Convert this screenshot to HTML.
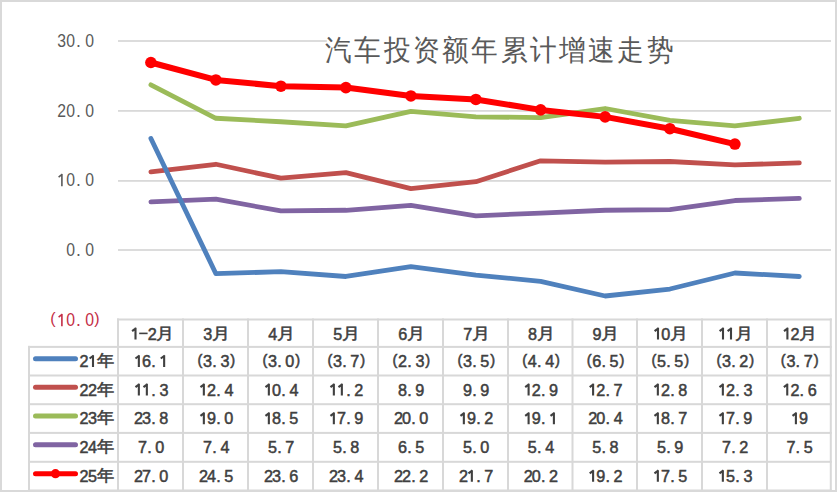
<!DOCTYPE html><html><head><meta charset="utf-8"><style>html,body{margin:0;padding:0;background:#fff;overflow:hidden}svg{display:block}text{font-family:"Liberation Sans",sans-serif}</style></head><body>
<svg width="837" height="492" viewBox="0 0 837 492">
<rect x="0" y="0" width="837" height="492" fill="#fff"/>
<rect x="118.0" y="40.10" width="713.0" height="1.8" fill="#d9d9d9"/>
<rect x="118.0" y="110.00" width="713.0" height="1.8" fill="#d9d9d9"/>
<rect x="118.0" y="180.00" width="713.0" height="1.8" fill="#d9d9d9"/>
<rect x="118.0" y="249.10" width="713.0" height="1.8" fill="#d9d9d9"/>
<rect x="326.8" y="32" width="343.1" height="34" fill="#fff"/>
<text transform="translate(325.1 60) scale(0.92 1)" x="0" y="0" font-size="28.9" letter-spacing="2.64" fill="#595959">汽车投资额年累计增速走势</text>
<text transform="translate(89.75 47.20) scale(0.900 1)" x="-4.87" y="0" font-size="17.50" fill="#595959">0</text>
<text transform="translate(70.65 47.20) scale(0.900 1)" x="-4.87" y="0" font-size="17.50" fill="#595959">0</text>
<text transform="translate(61.65 47.20) scale(0.900 1)" x="-4.82" y="0" font-size="17.50" fill="#595959">3</text>
<text x="75.92" y="47.20" font-size="17.50" fill="#595959">.</text>
<text transform="translate(89.75 117.40) scale(0.900 1)" x="-4.87" y="0" font-size="17.50" fill="#595959">0</text>
<text transform="translate(70.65 117.40) scale(0.900 1)" x="-4.87" y="0" font-size="17.50" fill="#595959">0</text>
<text transform="translate(61.65 117.40) scale(0.900 1)" x="-4.87" y="0" font-size="17.50" fill="#595959">2</text>
<text x="75.92" y="117.40" font-size="17.50" fill="#595959">.</text>
<text transform="translate(89.75 186.30) scale(0.900 1)" x="-4.87" y="0" font-size="17.50" fill="#595959">0</text>
<text transform="translate(70.65 186.30) scale(0.900 1)" x="-4.87" y="0" font-size="17.50" fill="#595959">0</text>
<path d="M61.90 173.90V186.30M62.38 174.20L58.60 177.10" stroke="#595959" stroke-width="1.60" fill="none" stroke-linecap="butt"/>
<text x="75.92" y="186.30" font-size="17.50" fill="#595959">.</text>
<text transform="translate(89.75 256.10) scale(0.900 1)" x="-4.87" y="0" font-size="17.50" fill="#595959">0</text>
<text transform="translate(70.65 256.10) scale(0.900 1)" x="-4.87" y="0" font-size="17.50" fill="#595959">0</text>
<text x="75.92" y="256.10" font-size="17.50" fill="#595959">.</text>
<text transform="translate(89.75 326.30) scale(0.900 1)" x="-4.87" y="0" font-size="17.50" fill="#c42d45">0</text>
<text transform="translate(70.65 326.30) scale(0.900 1)" x="-4.87" y="0" font-size="17.50" fill="#c42d45">0</text>
<path d="M61.90 313.90V326.30M62.38 314.20L58.60 317.10" stroke="#c42d45" stroke-width="1.60" fill="none" stroke-linecap="butt"/>
<text x="75.92" y="326.30" font-size="17.50" fill="#c42d45">.</text>
<text x="50.29" y="324.20" font-size="16.00" fill="#c42d45">(</text>
<text x="94.29" y="324.20" font-size="16.00" fill="#c42d45">)</text>
<g fill="#d8d8d8">
<rect x="117.00" y="318.50" width="714.80" height="2"/>
<rect x="28.00" y="345.90" width="803.80" height="2"/>
<rect x="28.00" y="374.50" width="803.80" height="2"/>
<rect x="28.00" y="403.20" width="803.80" height="2"/>
<rect x="28.00" y="431.90" width="803.80" height="2"/>
<rect x="28.00" y="460.80" width="803.80" height="2"/>
<rect x="28.00" y="489.50" width="803.80" height="2"/>
<rect x="28.00" y="345.90" width="2" height="145.60"/>
<rect x="117.00" y="318.50" width="2" height="173.00"/>
<rect x="182.00" y="318.50" width="2" height="173.00"/>
<rect x="247.00" y="318.50" width="2" height="173.00"/>
<rect x="312.00" y="318.50" width="2" height="173.00"/>
<rect x="377.00" y="318.50" width="2" height="173.00"/>
<rect x="442.00" y="318.50" width="2" height="173.00"/>
<rect x="507.00" y="318.50" width="2" height="173.00"/>
<rect x="571.50" y="318.50" width="2" height="173.00"/>
<rect x="636.00" y="318.50" width="2" height="173.00"/>
<rect x="701.00" y="318.50" width="2" height="173.00"/>
<rect x="766.00" y="318.50" width="2" height="173.00"/>
<rect x="829.80" y="318.50" width="2" height="173.00"/>
</g>
<path d="M135.50 327.80V339.50M136.13 328.10L132.10 331.10" stroke="#404040" stroke-width="2.10" fill="none" stroke-linecap="butt"/><rect x="139.20" y="332.60" width="8.4" height="1.6" fill="#404040"/><text x="147.70" y="339.50" font-size="16.20" fill="#404040" stroke="#404040" stroke-width="0.50">2</text><text transform="translate(163.80 338.90) scale(1.130 1)" x="-6.56" y="0" font-size="16.00" fill="#404040" stroke="#404040" stroke-width="0.50">月</text>
<text x="203.24" y="339.50" font-size="16.20" fill="#404040" stroke="#404040" stroke-width="0.50">3</text><text transform="translate(219.30 338.90) scale(1.130 1)" x="-6.56" y="0" font-size="16.00" fill="#404040" stroke="#404040" stroke-width="0.50">月</text>
<text x="268.25" y="339.50" font-size="16.20" fill="#404040" stroke="#404040" stroke-width="0.50">4</text><text transform="translate(284.30 338.90) scale(1.130 1)" x="-6.56" y="0" font-size="16.00" fill="#404040" stroke="#404040" stroke-width="0.50">月</text>
<text x="333.21" y="339.50" font-size="16.20" fill="#404040" stroke="#404040" stroke-width="0.50">5</text><text transform="translate(349.30 338.90) scale(1.130 1)" x="-6.56" y="0" font-size="16.00" fill="#404040" stroke="#404040" stroke-width="0.50">月</text>
<text x="398.14" y="339.50" font-size="16.20" fill="#404040" stroke="#404040" stroke-width="0.50">6</text><text transform="translate(414.30 338.90) scale(1.130 1)" x="-6.56" y="0" font-size="16.00" fill="#404040" stroke="#404040" stroke-width="0.50">月</text>
<text x="463.19" y="339.50" font-size="16.20" fill="#404040" stroke="#404040" stroke-width="0.50">7</text><text transform="translate(479.30 338.90) scale(1.130 1)" x="-6.56" y="0" font-size="16.00" fill="#404040" stroke="#404040" stroke-width="0.50">月</text>
<text x="527.95" y="339.50" font-size="16.20" fill="#404040" stroke="#404040" stroke-width="0.50">8</text><text transform="translate(544.05 338.90) scale(1.130 1)" x="-6.56" y="0" font-size="16.00" fill="#404040" stroke="#404040" stroke-width="0.50">月</text>
<text x="592.45" y="339.50" font-size="16.20" fill="#404040" stroke="#404040" stroke-width="0.50">9</text><text transform="translate(608.55 338.90) scale(1.130 1)" x="-6.56" y="0" font-size="16.00" fill="#404040" stroke="#404040" stroke-width="0.50">月</text>
<path d="M658.00 327.80V339.50M658.63 328.10L654.60 331.10" stroke="#404040" stroke-width="2.10" fill="none" stroke-linecap="butt"/><text x="661.20" y="339.50" font-size="16.20" fill="#404040" stroke="#404040" stroke-width="0.50">0</text><text transform="translate(677.30 338.90) scale(1.130 1)" x="-6.56" y="0" font-size="16.00" fill="#404040" stroke="#404040" stroke-width="0.50">月</text>
<path d="M723.00 327.80V339.50M723.63 328.10L719.60 331.10" stroke="#404040" stroke-width="2.10" fill="none" stroke-linecap="butt"/><path d="M731.00 327.80V339.50M731.63 328.10L727.60 331.10" stroke="#404040" stroke-width="2.10" fill="none" stroke-linecap="butt"/><text transform="translate(742.30 338.90) scale(1.130 1)" x="-6.56" y="0" font-size="16.00" fill="#404040" stroke="#404040" stroke-width="0.50">月</text>
<path d="M787.40 327.80V339.50M788.03 328.10L784.00 331.10" stroke="#404040" stroke-width="2.10" fill="none" stroke-linecap="butt"/><text x="790.60" y="339.50" font-size="16.20" fill="#404040" stroke="#404040" stroke-width="0.50">2</text><text transform="translate(806.70 338.90) scale(1.130 1)" x="-6.56" y="0" font-size="16.00" fill="#404040" stroke="#404040" stroke-width="0.50">月</text>
<path d="M138.85 355.20V366.90M139.48 355.50L135.45 358.50" stroke="#404040" stroke-width="2.10" fill="none" stroke-linecap="butt"/><text x="141.99" y="366.90" font-size="16.20" fill="#404040" stroke="#404040" stroke-width="0.50">6</text><text x="151.15" y="366.90" font-size="16.20" fill="#404040" stroke="#404040" stroke-width="0.50">.</text><path d="M164.15 355.20V366.90M164.78 355.50L160.75 358.50" stroke="#404040" stroke-width="2.10" fill="none" stroke-linecap="butt"/>
<text x="197.39" y="364.60" font-size="14.70" fill="#404040" stroke="#404040" stroke-width="0.50">(</text><text x="203.09" y="366.90" font-size="16.20" fill="#404040" stroke="#404040" stroke-width="0.50">3</text><text x="212.15" y="366.90" font-size="16.20" fill="#404040" stroke="#404040" stroke-width="0.50">.</text><text x="220.39" y="366.90" font-size="16.20" fill="#404040" stroke="#404040" stroke-width="0.50">3</text><text x="230.32" y="364.60" font-size="14.70" fill="#404040" stroke="#404040" stroke-width="0.50">)</text>
<text x="262.39" y="364.60" font-size="14.70" fill="#404040" stroke="#404040" stroke-width="0.50">(</text><text x="268.09" y="366.90" font-size="16.20" fill="#404040" stroke="#404040" stroke-width="0.50">3</text><text x="277.15" y="366.90" font-size="16.20" fill="#404040" stroke="#404040" stroke-width="0.50">.</text><text x="285.35" y="366.90" font-size="16.20" fill="#404040" stroke="#404040" stroke-width="0.50">0</text><text x="295.32" y="364.60" font-size="14.70" fill="#404040" stroke="#404040" stroke-width="0.50">)</text>
<text x="327.39" y="364.60" font-size="14.70" fill="#404040" stroke="#404040" stroke-width="0.50">(</text><text x="333.09" y="366.90" font-size="16.20" fill="#404040" stroke="#404040" stroke-width="0.50">3</text><text x="342.15" y="366.90" font-size="16.20" fill="#404040" stroke="#404040" stroke-width="0.50">.</text><text x="350.34" y="366.90" font-size="16.20" fill="#404040" stroke="#404040" stroke-width="0.50">7</text><text x="360.32" y="364.60" font-size="14.70" fill="#404040" stroke="#404040" stroke-width="0.50">)</text>
<text x="392.39" y="364.60" font-size="14.70" fill="#404040" stroke="#404040" stroke-width="0.50">(</text><text x="398.05" y="366.90" font-size="16.20" fill="#404040" stroke="#404040" stroke-width="0.50">2</text><text x="407.15" y="366.90" font-size="16.20" fill="#404040" stroke="#404040" stroke-width="0.50">.</text><text x="415.39" y="366.90" font-size="16.20" fill="#404040" stroke="#404040" stroke-width="0.50">3</text><text x="425.32" y="364.60" font-size="14.70" fill="#404040" stroke="#404040" stroke-width="0.50">)</text>
<text x="457.39" y="364.60" font-size="14.70" fill="#404040" stroke="#404040" stroke-width="0.50">(</text><text x="463.09" y="366.90" font-size="16.20" fill="#404040" stroke="#404040" stroke-width="0.50">3</text><text x="472.15" y="366.90" font-size="16.20" fill="#404040" stroke="#404040" stroke-width="0.50">.</text><text x="480.36" y="366.90" font-size="16.20" fill="#404040" stroke="#404040" stroke-width="0.50">5</text><text x="490.32" y="364.60" font-size="14.70" fill="#404040" stroke="#404040" stroke-width="0.50">)</text>
<text x="522.14" y="364.60" font-size="14.70" fill="#404040" stroke="#404040" stroke-width="0.50">(</text><text x="527.85" y="366.90" font-size="16.20" fill="#404040" stroke="#404040" stroke-width="0.50">4</text><text x="536.90" y="366.90" font-size="16.20" fill="#404040" stroke="#404040" stroke-width="0.50">.</text><text x="545.15" y="366.90" font-size="16.20" fill="#404040" stroke="#404040" stroke-width="0.50">4</text><text x="555.07" y="364.60" font-size="14.70" fill="#404040" stroke="#404040" stroke-width="0.50">)</text>
<text x="586.64" y="364.60" font-size="14.70" fill="#404040" stroke="#404040" stroke-width="0.50">(</text><text x="592.24" y="366.90" font-size="16.20" fill="#404040" stroke="#404040" stroke-width="0.50">6</text><text x="601.40" y="366.90" font-size="16.20" fill="#404040" stroke="#404040" stroke-width="0.50">.</text><text x="609.61" y="366.90" font-size="16.20" fill="#404040" stroke="#404040" stroke-width="0.50">5</text><text x="619.57" y="364.60" font-size="14.70" fill="#404040" stroke="#404040" stroke-width="0.50">)</text>
<text x="651.39" y="364.60" font-size="14.70" fill="#404040" stroke="#404040" stroke-width="0.50">(</text><text x="657.06" y="366.90" font-size="16.20" fill="#404040" stroke="#404040" stroke-width="0.50">5</text><text x="666.15" y="366.90" font-size="16.20" fill="#404040" stroke="#404040" stroke-width="0.50">.</text><text x="674.36" y="366.90" font-size="16.20" fill="#404040" stroke="#404040" stroke-width="0.50">5</text><text x="684.32" y="364.60" font-size="14.70" fill="#404040" stroke="#404040" stroke-width="0.50">)</text>
<text x="716.39" y="364.60" font-size="14.70" fill="#404040" stroke="#404040" stroke-width="0.50">(</text><text x="722.09" y="366.90" font-size="16.20" fill="#404040" stroke="#404040" stroke-width="0.50">3</text><text x="731.15" y="366.90" font-size="16.20" fill="#404040" stroke="#404040" stroke-width="0.50">.</text><text x="739.35" y="366.90" font-size="16.20" fill="#404040" stroke="#404040" stroke-width="0.50">2</text><text x="749.32" y="364.60" font-size="14.70" fill="#404040" stroke="#404040" stroke-width="0.50">)</text>
<text x="780.79" y="364.60" font-size="14.70" fill="#404040" stroke="#404040" stroke-width="0.50">(</text><text x="786.49" y="366.90" font-size="16.20" fill="#404040" stroke="#404040" stroke-width="0.50">3</text><text x="795.55" y="366.90" font-size="16.20" fill="#404040" stroke="#404040" stroke-width="0.50">.</text><text x="803.74" y="366.90" font-size="16.20" fill="#404040" stroke="#404040" stroke-width="0.50">7</text><text x="813.72" y="364.60" font-size="14.70" fill="#404040" stroke="#404040" stroke-width="0.50">)</text>
<line x1="35.5" y1="358.70" x2="75.5" y2="358.70" stroke="#4f81bd" stroke-width="5" stroke-linecap="round"/>
<text x="79.40" y="366.90" font-size="16.20" fill="#404040" stroke="#404040" stroke-width="0.50">2</text>
<path d="M93.00 355.20V366.90M93.63 355.50L89.60 358.50" stroke="#404040" stroke-width="2.10" fill="none" stroke-linecap="butt"/>
<text transform="translate(105.25 366.00) scale(1.080 1)" x="-7.54" y="0" font-size="15.70" fill="#404040" stroke="#404040" stroke-width="0.50">年</text>
<path d="M138.85 383.85V395.55M139.48 384.15L135.45 387.15" stroke="#404040" stroke-width="2.10" fill="none" stroke-linecap="butt"/><path d="M146.85 383.85V395.55M147.48 384.15L143.45 387.15" stroke="#404040" stroke-width="2.10" fill="none" stroke-linecap="butt"/><text x="151.15" y="395.55" font-size="16.20" fill="#404040" stroke="#404040" stroke-width="0.50">.</text><text x="159.39" y="395.55" font-size="16.20" fill="#404040" stroke="#404040" stroke-width="0.50">3</text>
<path d="M203.85 383.85V395.55M204.48 384.15L200.45 387.15" stroke="#404040" stroke-width="2.10" fill="none" stroke-linecap="butt"/><text x="207.05" y="395.55" font-size="16.20" fill="#404040" stroke="#404040" stroke-width="0.50">2</text><text x="216.15" y="395.55" font-size="16.20" fill="#404040" stroke="#404040" stroke-width="0.50">.</text><text x="224.40" y="395.55" font-size="16.20" fill="#404040" stroke="#404040" stroke-width="0.50">4</text>
<path d="M268.85 383.85V395.55M269.48 384.15L265.45 387.15" stroke="#404040" stroke-width="2.10" fill="none" stroke-linecap="butt"/><text x="272.05" y="395.55" font-size="16.20" fill="#404040" stroke="#404040" stroke-width="0.50">0</text><text x="281.15" y="395.55" font-size="16.20" fill="#404040" stroke="#404040" stroke-width="0.50">.</text><text x="289.40" y="395.55" font-size="16.20" fill="#404040" stroke="#404040" stroke-width="0.50">4</text>
<path d="M333.85 383.85V395.55M334.48 384.15L330.45 387.15" stroke="#404040" stroke-width="2.10" fill="none" stroke-linecap="butt"/><path d="M341.85 383.85V395.55M342.48 384.15L338.45 387.15" stroke="#404040" stroke-width="2.10" fill="none" stroke-linecap="butt"/><text x="346.15" y="395.55" font-size="16.20" fill="#404040" stroke="#404040" stroke-width="0.50">.</text><text x="354.35" y="395.55" font-size="16.20" fill="#404040" stroke="#404040" stroke-width="0.50">2</text>
<text x="398.05" y="395.55" font-size="16.20" fill="#404040" stroke="#404040" stroke-width="0.50">8</text><text x="407.15" y="395.55" font-size="16.20" fill="#404040" stroke="#404040" stroke-width="0.50">.</text><text x="415.35" y="395.55" font-size="16.20" fill="#404040" stroke="#404040" stroke-width="0.50">9</text>
<text x="463.05" y="395.55" font-size="16.20" fill="#404040" stroke="#404040" stroke-width="0.50">9</text><text x="472.15" y="395.55" font-size="16.20" fill="#404040" stroke="#404040" stroke-width="0.50">.</text><text x="480.35" y="395.55" font-size="16.20" fill="#404040" stroke="#404040" stroke-width="0.50">9</text>
<path d="M528.60 383.85V395.55M529.23 384.15L525.20 387.15" stroke="#404040" stroke-width="2.10" fill="none" stroke-linecap="butt"/><text x="531.80" y="395.55" font-size="16.20" fill="#404040" stroke="#404040" stroke-width="0.50">2</text><text x="540.90" y="395.55" font-size="16.20" fill="#404040" stroke="#404040" stroke-width="0.50">.</text><text x="549.10" y="395.55" font-size="16.20" fill="#404040" stroke="#404040" stroke-width="0.50">9</text>
<path d="M593.10 383.85V395.55M593.73 384.15L589.70 387.15" stroke="#404040" stroke-width="2.10" fill="none" stroke-linecap="butt"/><text x="596.30" y="395.55" font-size="16.20" fill="#404040" stroke="#404040" stroke-width="0.50">2</text><text x="605.40" y="395.55" font-size="16.20" fill="#404040" stroke="#404040" stroke-width="0.50">.</text><text x="613.59" y="395.55" font-size="16.20" fill="#404040" stroke="#404040" stroke-width="0.50">7</text>
<path d="M657.85 383.85V395.55M658.48 384.15L654.45 387.15" stroke="#404040" stroke-width="2.10" fill="none" stroke-linecap="butt"/><text x="661.05" y="395.55" font-size="16.20" fill="#404040" stroke="#404040" stroke-width="0.50">2</text><text x="670.15" y="395.55" font-size="16.20" fill="#404040" stroke="#404040" stroke-width="0.50">.</text><text x="678.35" y="395.55" font-size="16.20" fill="#404040" stroke="#404040" stroke-width="0.50">8</text>
<path d="M722.85 383.85V395.55M723.48 384.15L719.45 387.15" stroke="#404040" stroke-width="2.10" fill="none" stroke-linecap="butt"/><text x="726.05" y="395.55" font-size="16.20" fill="#404040" stroke="#404040" stroke-width="0.50">2</text><text x="735.15" y="395.55" font-size="16.20" fill="#404040" stroke="#404040" stroke-width="0.50">.</text><text x="743.39" y="395.55" font-size="16.20" fill="#404040" stroke="#404040" stroke-width="0.50">3</text>
<path d="M787.25 383.85V395.55M787.88 384.15L783.85 387.15" stroke="#404040" stroke-width="2.10" fill="none" stroke-linecap="butt"/><text x="790.45" y="395.55" font-size="16.20" fill="#404040" stroke="#404040" stroke-width="0.50">2</text><text x="799.55" y="395.55" font-size="16.20" fill="#404040" stroke="#404040" stroke-width="0.50">.</text><text x="807.69" y="395.55" font-size="16.20" fill="#404040" stroke="#404040" stroke-width="0.50">6</text>
<line x1="35.5" y1="387.35" x2="75.5" y2="387.35" stroke="#c0504d" stroke-width="5" stroke-linecap="round"/>
<text x="79.40" y="395.55" font-size="16.20" fill="#404040" stroke="#404040" stroke-width="0.50">2</text>
<text x="87.90" y="395.55" font-size="16.20" fill="#404040" stroke="#404040" stroke-width="0.50">2</text>
<text transform="translate(105.25 394.65) scale(1.080 1)" x="-7.54" y="0" font-size="15.70" fill="#404040" stroke="#404040" stroke-width="0.50">年</text>
<text x="134.05" y="424.25" font-size="16.20" fill="#404040" stroke="#404040" stroke-width="0.50">2</text><text x="142.09" y="424.25" font-size="16.20" fill="#404040" stroke="#404040" stroke-width="0.50">3</text><text x="151.15" y="424.25" font-size="16.20" fill="#404040" stroke="#404040" stroke-width="0.50">.</text><text x="159.35" y="424.25" font-size="16.20" fill="#404040" stroke="#404040" stroke-width="0.50">8</text>
<path d="M203.85 412.55V424.25M204.48 412.85L200.45 415.85" stroke="#404040" stroke-width="2.10" fill="none" stroke-linecap="butt"/><text x="207.05" y="424.25" font-size="16.20" fill="#404040" stroke="#404040" stroke-width="0.50">9</text><text x="216.15" y="424.25" font-size="16.20" fill="#404040" stroke="#404040" stroke-width="0.50">.</text><text x="224.35" y="424.25" font-size="16.20" fill="#404040" stroke="#404040" stroke-width="0.50">0</text>
<path d="M268.85 412.55V424.25M269.48 412.85L265.45 415.85" stroke="#404040" stroke-width="2.10" fill="none" stroke-linecap="butt"/><text x="272.05" y="424.25" font-size="16.20" fill="#404040" stroke="#404040" stroke-width="0.50">8</text><text x="281.15" y="424.25" font-size="16.20" fill="#404040" stroke="#404040" stroke-width="0.50">.</text><text x="289.36" y="424.25" font-size="16.20" fill="#404040" stroke="#404040" stroke-width="0.50">5</text>
<path d="M333.85 412.55V424.25M334.48 412.85L330.45 415.85" stroke="#404040" stroke-width="2.10" fill="none" stroke-linecap="butt"/><text x="337.04" y="424.25" font-size="16.20" fill="#404040" stroke="#404040" stroke-width="0.50">7</text><text x="346.15" y="424.25" font-size="16.20" fill="#404040" stroke="#404040" stroke-width="0.50">.</text><text x="354.35" y="424.25" font-size="16.20" fill="#404040" stroke="#404040" stroke-width="0.50">9</text>
<text x="394.05" y="424.25" font-size="16.20" fill="#404040" stroke="#404040" stroke-width="0.50">2</text><text x="402.05" y="424.25" font-size="16.20" fill="#404040" stroke="#404040" stroke-width="0.50">0</text><text x="411.15" y="424.25" font-size="16.20" fill="#404040" stroke="#404040" stroke-width="0.50">.</text><text x="419.35" y="424.25" font-size="16.20" fill="#404040" stroke="#404040" stroke-width="0.50">0</text>
<path d="M463.85 412.55V424.25M464.48 412.85L460.45 415.85" stroke="#404040" stroke-width="2.10" fill="none" stroke-linecap="butt"/><text x="467.05" y="424.25" font-size="16.20" fill="#404040" stroke="#404040" stroke-width="0.50">9</text><text x="476.15" y="424.25" font-size="16.20" fill="#404040" stroke="#404040" stroke-width="0.50">.</text><text x="484.35" y="424.25" font-size="16.20" fill="#404040" stroke="#404040" stroke-width="0.50">2</text>
<path d="M528.60 412.55V424.25M529.23 412.85L525.20 415.85" stroke="#404040" stroke-width="2.10" fill="none" stroke-linecap="butt"/><text x="531.80" y="424.25" font-size="16.20" fill="#404040" stroke="#404040" stroke-width="0.50">9</text><text x="540.90" y="424.25" font-size="16.20" fill="#404040" stroke="#404040" stroke-width="0.50">.</text><path d="M553.90 412.55V424.25M554.53 412.85L550.50 415.85" stroke="#404040" stroke-width="2.10" fill="none" stroke-linecap="butt"/>
<text x="588.30" y="424.25" font-size="16.20" fill="#404040" stroke="#404040" stroke-width="0.50">2</text><text x="596.30" y="424.25" font-size="16.20" fill="#404040" stroke="#404040" stroke-width="0.50">0</text><text x="605.40" y="424.25" font-size="16.20" fill="#404040" stroke="#404040" stroke-width="0.50">.</text><text x="613.65" y="424.25" font-size="16.20" fill="#404040" stroke="#404040" stroke-width="0.50">4</text>
<path d="M657.85 412.55V424.25M658.48 412.85L654.45 415.85" stroke="#404040" stroke-width="2.10" fill="none" stroke-linecap="butt"/><text x="661.05" y="424.25" font-size="16.20" fill="#404040" stroke="#404040" stroke-width="0.50">8</text><text x="670.15" y="424.25" font-size="16.20" fill="#404040" stroke="#404040" stroke-width="0.50">.</text><text x="678.34" y="424.25" font-size="16.20" fill="#404040" stroke="#404040" stroke-width="0.50">7</text>
<path d="M722.85 412.55V424.25M723.48 412.85L719.45 415.85" stroke="#404040" stroke-width="2.10" fill="none" stroke-linecap="butt"/><text x="726.04" y="424.25" font-size="16.20" fill="#404040" stroke="#404040" stroke-width="0.50">7</text><text x="735.15" y="424.25" font-size="16.20" fill="#404040" stroke="#404040" stroke-width="0.50">.</text><text x="743.35" y="424.25" font-size="16.20" fill="#404040" stroke="#404040" stroke-width="0.50">9</text>
<path d="M795.90 412.55V424.25M796.53 412.85L792.50 415.85" stroke="#404040" stroke-width="2.10" fill="none" stroke-linecap="butt"/><text x="799.10" y="424.25" font-size="16.20" fill="#404040" stroke="#404040" stroke-width="0.50">9</text>
<line x1="35.5" y1="416.05" x2="75.5" y2="416.05" stroke="#9bbb59" stroke-width="5" stroke-linecap="round"/>
<text x="79.40" y="424.25" font-size="16.20" fill="#404040" stroke="#404040" stroke-width="0.50">2</text>
<text x="87.94" y="424.25" font-size="16.20" fill="#404040" stroke="#404040" stroke-width="0.50">3</text>
<text transform="translate(105.25 423.35) scale(1.080 1)" x="-7.54" y="0" font-size="15.70" fill="#404040" stroke="#404040" stroke-width="0.50">年</text>
<text x="138.04" y="453.05" font-size="16.20" fill="#404040" stroke="#404040" stroke-width="0.50">7</text><text x="147.15" y="453.05" font-size="16.20" fill="#404040" stroke="#404040" stroke-width="0.50">.</text><text x="155.35" y="453.05" font-size="16.20" fill="#404040" stroke="#404040" stroke-width="0.50">0</text>
<text x="203.04" y="453.05" font-size="16.20" fill="#404040" stroke="#404040" stroke-width="0.50">7</text><text x="212.15" y="453.05" font-size="16.20" fill="#404040" stroke="#404040" stroke-width="0.50">.</text><text x="220.40" y="453.05" font-size="16.20" fill="#404040" stroke="#404040" stroke-width="0.50">4</text>
<text x="268.06" y="453.05" font-size="16.20" fill="#404040" stroke="#404040" stroke-width="0.50">5</text><text x="277.15" y="453.05" font-size="16.20" fill="#404040" stroke="#404040" stroke-width="0.50">.</text><text x="285.34" y="453.05" font-size="16.20" fill="#404040" stroke="#404040" stroke-width="0.50">7</text>
<text x="333.06" y="453.05" font-size="16.20" fill="#404040" stroke="#404040" stroke-width="0.50">5</text><text x="342.15" y="453.05" font-size="16.20" fill="#404040" stroke="#404040" stroke-width="0.50">.</text><text x="350.35" y="453.05" font-size="16.20" fill="#404040" stroke="#404040" stroke-width="0.50">8</text>
<text x="397.99" y="453.05" font-size="16.20" fill="#404040" stroke="#404040" stroke-width="0.50">6</text><text x="407.15" y="453.05" font-size="16.20" fill="#404040" stroke="#404040" stroke-width="0.50">.</text><text x="415.36" y="453.05" font-size="16.20" fill="#404040" stroke="#404040" stroke-width="0.50">5</text>
<text x="463.06" y="453.05" font-size="16.20" fill="#404040" stroke="#404040" stroke-width="0.50">5</text><text x="472.15" y="453.05" font-size="16.20" fill="#404040" stroke="#404040" stroke-width="0.50">.</text><text x="480.35" y="453.05" font-size="16.20" fill="#404040" stroke="#404040" stroke-width="0.50">0</text>
<text x="527.81" y="453.05" font-size="16.20" fill="#404040" stroke="#404040" stroke-width="0.50">5</text><text x="536.90" y="453.05" font-size="16.20" fill="#404040" stroke="#404040" stroke-width="0.50">.</text><text x="545.15" y="453.05" font-size="16.20" fill="#404040" stroke="#404040" stroke-width="0.50">4</text>
<text x="592.31" y="453.05" font-size="16.20" fill="#404040" stroke="#404040" stroke-width="0.50">5</text><text x="601.40" y="453.05" font-size="16.20" fill="#404040" stroke="#404040" stroke-width="0.50">.</text><text x="609.60" y="453.05" font-size="16.20" fill="#404040" stroke="#404040" stroke-width="0.50">8</text>
<text x="657.06" y="453.05" font-size="16.20" fill="#404040" stroke="#404040" stroke-width="0.50">5</text><text x="666.15" y="453.05" font-size="16.20" fill="#404040" stroke="#404040" stroke-width="0.50">.</text><text x="674.35" y="453.05" font-size="16.20" fill="#404040" stroke="#404040" stroke-width="0.50">9</text>
<text x="722.04" y="453.05" font-size="16.20" fill="#404040" stroke="#404040" stroke-width="0.50">7</text><text x="731.15" y="453.05" font-size="16.20" fill="#404040" stroke="#404040" stroke-width="0.50">.</text><text x="739.35" y="453.05" font-size="16.20" fill="#404040" stroke="#404040" stroke-width="0.50">2</text>
<text x="786.44" y="453.05" font-size="16.20" fill="#404040" stroke="#404040" stroke-width="0.50">7</text><text x="795.55" y="453.05" font-size="16.20" fill="#404040" stroke="#404040" stroke-width="0.50">.</text><text x="803.76" y="453.05" font-size="16.20" fill="#404040" stroke="#404040" stroke-width="0.50">5</text>
<line x1="35.5" y1="444.85" x2="75.5" y2="444.85" stroke="#8064a2" stroke-width="5" stroke-linecap="round"/>
<text x="79.40" y="453.05" font-size="16.20" fill="#404040" stroke="#404040" stroke-width="0.50">2</text>
<text x="87.95" y="453.05" font-size="16.20" fill="#404040" stroke="#404040" stroke-width="0.50">4</text>
<text transform="translate(105.25 452.15) scale(1.080 1)" x="-7.54" y="0" font-size="15.70" fill="#404040" stroke="#404040" stroke-width="0.50">年</text>
<text x="134.05" y="481.85" font-size="16.20" fill="#404040" stroke="#404040" stroke-width="0.50">2</text><text x="142.04" y="481.85" font-size="16.20" fill="#404040" stroke="#404040" stroke-width="0.50">7</text><text x="151.15" y="481.85" font-size="16.20" fill="#404040" stroke="#404040" stroke-width="0.50">.</text><text x="159.35" y="481.85" font-size="16.20" fill="#404040" stroke="#404040" stroke-width="0.50">0</text>
<text x="199.05" y="481.85" font-size="16.20" fill="#404040" stroke="#404040" stroke-width="0.50">2</text><text x="207.10" y="481.85" font-size="16.20" fill="#404040" stroke="#404040" stroke-width="0.50">4</text><text x="216.15" y="481.85" font-size="16.20" fill="#404040" stroke="#404040" stroke-width="0.50">.</text><text x="224.36" y="481.85" font-size="16.20" fill="#404040" stroke="#404040" stroke-width="0.50">5</text>
<text x="264.05" y="481.85" font-size="16.20" fill="#404040" stroke="#404040" stroke-width="0.50">2</text><text x="272.09" y="481.85" font-size="16.20" fill="#404040" stroke="#404040" stroke-width="0.50">3</text><text x="281.15" y="481.85" font-size="16.20" fill="#404040" stroke="#404040" stroke-width="0.50">.</text><text x="289.29" y="481.85" font-size="16.20" fill="#404040" stroke="#404040" stroke-width="0.50">6</text>
<text x="329.05" y="481.85" font-size="16.20" fill="#404040" stroke="#404040" stroke-width="0.50">2</text><text x="337.09" y="481.85" font-size="16.20" fill="#404040" stroke="#404040" stroke-width="0.50">3</text><text x="346.15" y="481.85" font-size="16.20" fill="#404040" stroke="#404040" stroke-width="0.50">.</text><text x="354.40" y="481.85" font-size="16.20" fill="#404040" stroke="#404040" stroke-width="0.50">4</text>
<text x="394.05" y="481.85" font-size="16.20" fill="#404040" stroke="#404040" stroke-width="0.50">2</text><text x="402.05" y="481.85" font-size="16.20" fill="#404040" stroke="#404040" stroke-width="0.50">2</text><text x="411.15" y="481.85" font-size="16.20" fill="#404040" stroke="#404040" stroke-width="0.50">.</text><text x="419.35" y="481.85" font-size="16.20" fill="#404040" stroke="#404040" stroke-width="0.50">2</text>
<text x="459.05" y="481.85" font-size="16.20" fill="#404040" stroke="#404040" stroke-width="0.50">2</text><path d="M471.85 470.15V481.85M472.48 470.45L468.45 473.45" stroke="#404040" stroke-width="2.10" fill="none" stroke-linecap="butt"/><text x="476.15" y="481.85" font-size="16.20" fill="#404040" stroke="#404040" stroke-width="0.50">.</text><text x="484.34" y="481.85" font-size="16.20" fill="#404040" stroke="#404040" stroke-width="0.50">7</text>
<text x="523.80" y="481.85" font-size="16.20" fill="#404040" stroke="#404040" stroke-width="0.50">2</text><text x="531.80" y="481.85" font-size="16.20" fill="#404040" stroke="#404040" stroke-width="0.50">0</text><text x="540.90" y="481.85" font-size="16.20" fill="#404040" stroke="#404040" stroke-width="0.50">.</text><text x="549.10" y="481.85" font-size="16.20" fill="#404040" stroke="#404040" stroke-width="0.50">2</text>
<path d="M593.10 470.15V481.85M593.73 470.45L589.70 473.45" stroke="#404040" stroke-width="2.10" fill="none" stroke-linecap="butt"/><text x="596.30" y="481.85" font-size="16.20" fill="#404040" stroke="#404040" stroke-width="0.50">9</text><text x="605.40" y="481.85" font-size="16.20" fill="#404040" stroke="#404040" stroke-width="0.50">.</text><text x="613.60" y="481.85" font-size="16.20" fill="#404040" stroke="#404040" stroke-width="0.50">2</text>
<path d="M657.85 470.15V481.85M658.48 470.45L654.45 473.45" stroke="#404040" stroke-width="2.10" fill="none" stroke-linecap="butt"/><text x="661.04" y="481.85" font-size="16.20" fill="#404040" stroke="#404040" stroke-width="0.50">7</text><text x="670.15" y="481.85" font-size="16.20" fill="#404040" stroke="#404040" stroke-width="0.50">.</text><text x="678.36" y="481.85" font-size="16.20" fill="#404040" stroke="#404040" stroke-width="0.50">5</text>
<path d="M722.85 470.15V481.85M723.48 470.45L719.45 473.45" stroke="#404040" stroke-width="2.10" fill="none" stroke-linecap="butt"/><text x="726.06" y="481.85" font-size="16.20" fill="#404040" stroke="#404040" stroke-width="0.50">5</text><text x="735.15" y="481.85" font-size="16.20" fill="#404040" stroke="#404040" stroke-width="0.50">.</text><text x="743.39" y="481.85" font-size="16.20" fill="#404040" stroke="#404040" stroke-width="0.50">3</text>
<line x1="35.5" y1="473.65" x2="75.5" y2="473.65" stroke="#ff0000" stroke-width="5" stroke-linecap="round"/>
<circle cx="55.5" cy="473.65" r="4.6" fill="#ff0000"/>
<text x="79.40" y="481.85" font-size="16.20" fill="#404040" stroke="#404040" stroke-width="0.50">2</text>
<text x="87.91" y="481.85" font-size="16.20" fill="#404040" stroke="#404040" stroke-width="0.50">5</text>
<text transform="translate(105.25 480.95) scale(1.080 1)" x="-7.54" y="0" font-size="15.70" fill="#404040" stroke="#404040" stroke-width="0.50">年</text>
<polyline points="150.90,171.94 215.90,164.27 280.90,178.21 345.90,172.64 410.90,188.67 475.90,181.70 540.65,160.79 605.15,162.18 669.90,161.48 734.90,164.97 799.30,162.88" fill="none" stroke="#c0504d" stroke-width="4.8" stroke-linejoin="round" stroke-linecap="round"/>
<polyline points="150.90,201.91 215.90,199.12 280.90,210.97 345.90,210.27 410.90,205.39 475.90,215.85 540.65,213.06 605.15,210.27 669.90,209.58 734.90,200.52 799.30,198.42" fill="none" stroke="#8064a2" stroke-width="4.8" stroke-linejoin="round" stroke-linecap="round"/>
<polyline points="150.90,84.81 215.90,118.27 280.90,121.75 345.90,125.94 410.90,111.30 475.90,116.88 540.65,117.57 605.15,108.51 669.90,120.36 734.90,125.94 799.30,118.27" fill="none" stroke="#9bbb59" stroke-width="4.8" stroke-linejoin="round" stroke-linecap="round"/>
<polyline points="150.90,138.48 215.90,273.70 280.90,271.61 345.90,276.49 410.90,266.73 475.90,275.09 540.65,281.37 605.15,296.00 669.90,289.03 734.90,273.00 799.30,276.49" fill="none" stroke="#4f81bd" stroke-width="4.8" stroke-linejoin="round" stroke-linecap="round"/>
<polyline points="150.90,62.51 215.90,79.94 280.90,86.21 345.90,87.60 410.90,95.97 475.90,99.45 540.65,109.91 605.15,116.88 669.90,128.72 734.90,144.06" fill="none" stroke="#ff0000" stroke-width="6.0" stroke-linejoin="round" stroke-linecap="round"/>
<circle cx="150.90" cy="62.51" r="5.8" fill="#ff0000"/>
<circle cx="215.90" cy="79.94" r="5.8" fill="#ff0000"/>
<circle cx="280.90" cy="86.21" r="5.8" fill="#ff0000"/>
<circle cx="345.90" cy="87.60" r="5.8" fill="#ff0000"/>
<circle cx="410.90" cy="95.97" r="5.8" fill="#ff0000"/>
<circle cx="475.90" cy="99.45" r="5.8" fill="#ff0000"/>
<circle cx="540.65" cy="109.91" r="5.8" fill="#ff0000"/>
<circle cx="605.15" cy="116.88" r="5.8" fill="#ff0000"/>
<circle cx="669.90" cy="128.72" r="5.8" fill="#ff0000"/>
<circle cx="734.90" cy="144.06" r="5.8" fill="#ff0000"/>
<rect x="1" y="1" width="835" height="490" fill="none" stroke="#d9d9d9" stroke-width="2"/>
</svg></body></html>
